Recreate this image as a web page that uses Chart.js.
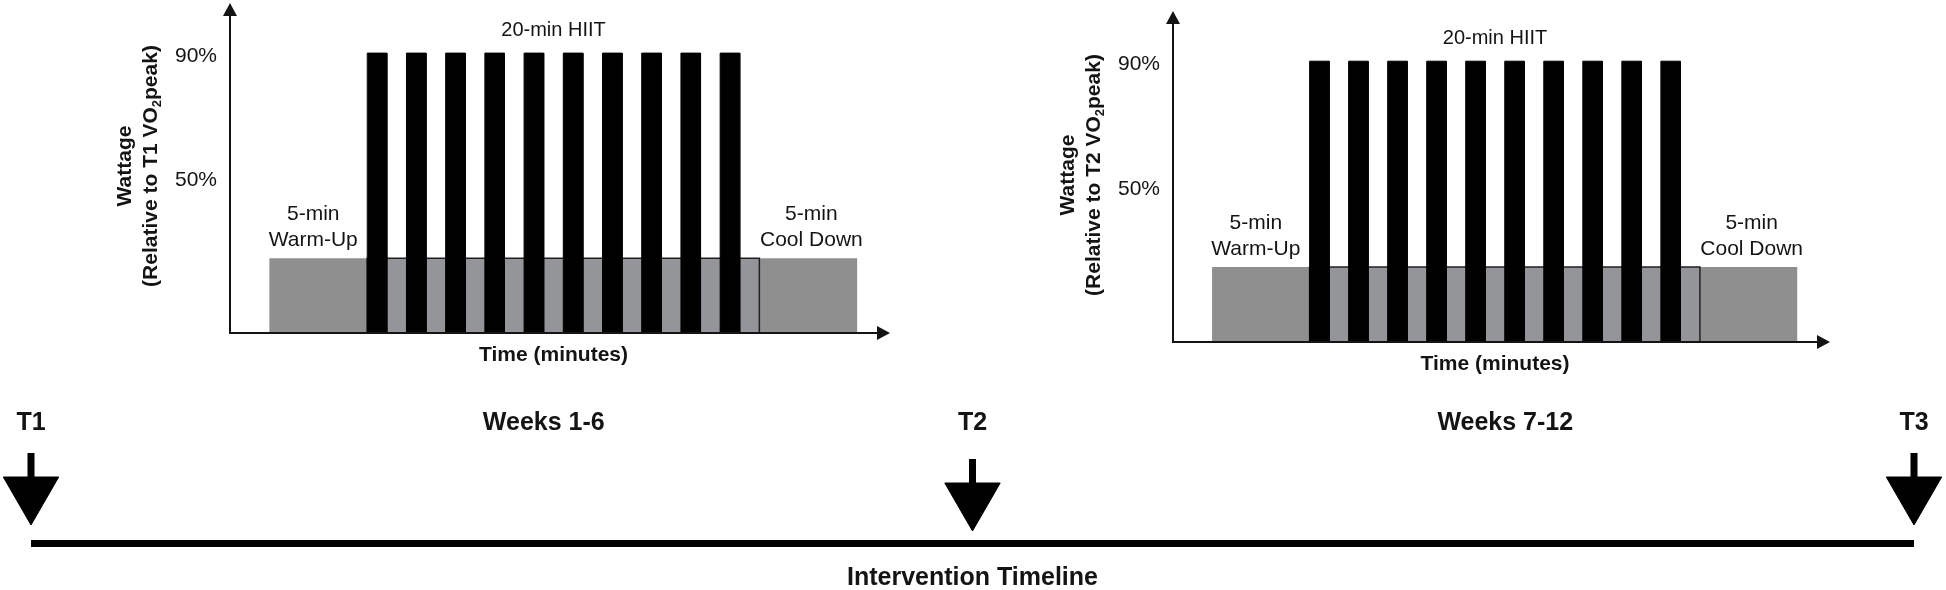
<!DOCTYPE html>
<html><head><meta charset="utf-8">
<script src="https://cdn.jsdelivr.net/npm/chart.js@4.4.1/dist/chart.umd.min.js"></script>
<style>
html,body{margin:0;padding:0;background:#fff;width:1946px;height:590px;overflow:hidden;}
canvas{position:absolute;}
</style></head><body>
<canvas id="p1" width="920" height="390" style="left:0;top:0;width:920px;height:390px"></canvas>
<canvas id="p2" width="920" height="400" style="left:940px;top:0;width:920px;height:400px"></canvas>
<canvas id="tl" width="1946" height="200" style="left:0;top:390px;width:1946px;height:200px"></canvas>
<script>
// ---------- DATA ----------
const phaseNames = ['5-min Warm-Up', '20-min HIIT', '5-min Cool Down'];
const phaseStartMin = [0, 5, 25];
const phaseEndMin = [5, 25, 30];
const phaseLevel = [24, 24, 24];            // % of VO2peak wattage (light work)
const intervalStartMin = [5, 7, 9, 11, 13, 15, 17, 19, 21, 23];
const intervalEndMin   = [6, 8, 10, 12, 14, 16, 18, 20, 22, 24];
const intervalLevel    = [90, 90, 90, 90, 90, 90, 90, 90, 90, 90];
const yTickValues = [50, 90];
const panelRefs = ['T1', 'T2'];
const timepoints = ['T1', 'T2', 'T3'];
const timepointWeek = [0, 6, 12];
const periodLabels = ['Weeks 1-6', 'Weeks 7-12'];
const periodStartWeek = [0, 6];
const periodEndWeek = [6, 12];
const timelineTitle = 'Intervention Timeline';

// ---------- STYLE ----------
const FONT = '"Liberation Sans", Arial, Helvetica, sans-serif';
const INK = '#141414';
Chart.defaults.font.family = FONT;
Chart.defaults.color = INK;

const rect = (x0, x1, level) => [{x:x0,y:0},{x:x0,y:level},{x:x1,y:level},{x:x1,y:0}];

function panelDecor(ref) {
  return {
    id: 'panelDecor',
    afterDraw(chart) {
      const {ctx, chartArea: a, scales: {x, y}} = chart;
      ctx.save();
      ctx.strokeStyle = INK; ctx.fillStyle = INK; ctx.lineWidth = 2;
      // y-axis arrow
      ctx.beginPath(); ctx.moveTo(a.left, a.top + 1); ctx.lineTo(a.left, a.top - 8); ctx.stroke();
      ctx.beginPath(); ctx.moveTo(a.left, a.top - 19); ctx.lineTo(a.left - 7, a.top - 6); ctx.lineTo(a.left + 7, a.top - 6); ctx.closePath(); ctx.fill();
      // x-axis arrow
      ctx.beginPath(); ctx.moveTo(a.right - 1, a.bottom); ctx.lineTo(a.right + 2, a.bottom); ctx.stroke();
      ctx.beginPath(); ctx.moveTo(a.right + 13, a.bottom); ctx.lineTo(a.right, a.bottom - 7); ctx.lineTo(a.right, a.bottom + 7); ctx.closePath(); ctx.fill();

      ctx.textAlign = 'center'; ctx.textBaseline = 'middle';
      // HIIT label
      ctx.font = `20px ${FONT}`;
      const hiitMid = (intervalStartMin[0] + intervalEndMin[intervalEndMin.length - 1]) / 2;
      ctx.fillText(phaseNames[1], x.getPixelForValue(hiitMid), y.getPixelForValue(Math.max(...intervalLevel)) - 23);
      // warm-up / cool-down labels
      ctx.font = `21px ${FONT}`;
      [[0, -5], [2, 3]].forEach(([i, dx]) => {
        const name = phaseNames[i]; const sp = name.indexOf(' ');
        const cx = x.getPixelForValue((phaseStartMin[i] + phaseEndMin[i]) / 2) + dx;
        const top = y.getPixelForValue(phaseLevel[i]);
        ctx.fillText(name.slice(0, sp), cx, top - 44);
        ctx.fillText(name.slice(sp + 1), cx, top - 18);
      });
      // x title
      ctx.font = `bold 21px ${FONT}`;
      ctx.fillText('Time (minutes)', (a.left + a.right) / 2, a.bottom + 22);
      // y title (rotated)
      ctx.save();
      ctx.translate(a.left - 105, a.bottom - 167);
      ctx.rotate(-Math.PI / 2);
      ctx.font = `bold 21px ${FONT}`;
      ctx.fillText('Wattage', 0, 0);
      const segs = [['(Relative to ' + ref + ' VO', 21, 0], ['2', 13, 6], ['peak)', 21, 0]];
      let W = 0;
      segs.forEach(s => { ctx.font = `bold ${s[1]}px ${FONT}`; s.push(ctx.measureText(s[0]).width); W += s[3]; });
      ctx.textAlign = 'left';
      let cx = -W / 2;
      segs.forEach(s => { ctx.font = `bold ${s[1]}px ${FONT}`; ctx.fillText(s[0], cx, 26 + s[2]); cx += s[3]; });
      ctx.restore();
      ctx.restore();
    }
  };
}

function makePanel(id, ref, g) {
  const common = {pointRadius: 0, tension: 0, fill: 'origin'};
  const datasets = [
    Object.assign({label: 'HIIT intervals (90%)',
      data: intervalStartMin.flatMap((s, i) => rect(s, intervalEndMin[i], intervalLevel[i])),
      backgroundColor: '#000', borderColor: '#000', borderWidth: 1, order: 0}, common),
    Object.assign({label: phaseNames[1] + ' recovery',
      data: rect(phaseStartMin[1], phaseEndMin[1], phaseLevel[1]),
      backgroundColor: '#939598', borderColor: '#231f20', borderWidth: 1.5, order: 1}, common),
    Object.assign({label: phaseNames[0],
      data: rect(phaseStartMin[0], phaseEndMin[0], phaseLevel[0]),
      backgroundColor: '#8f8f8f', borderColor: 'rgba(0,0,0,0)', borderWidth: 1, order: 2}, common),
    Object.assign({label: phaseNames[2],
      data: rect(phaseStartMin[2], phaseEndMin[2], phaseLevel[2]),
      backgroundColor: '#8f8f8f', borderColor: 'rgba(0,0,0,0)', borderWidth: 1, order: 2}, common),
  ];
  return new Chart(document.getElementById(id), {
    type: 'line',
    data: {datasets},
    options: {
      responsive: false, maintainAspectRatio: false, devicePixelRatio: 1, animation: false, events: [],
      layout: {autoPadding: false, padding: {left: 0, top: g.top, right: g.canvasW - g.right, bottom: 0}},
      plugins: {legend: {display: false}, tooltip: {enabled: false}},
      scales: {
        x: {type: 'linear', min: -2, max: 31,
          grid: {display: false, drawTicks: false},
          border: {display: true, color: INK, width: 2, z: 1},
          ticks: {display: false},
          afterFit(s) { s.height = g.canvasH - g.bottom; s.paddingLeft = 0; s.paddingRight = 0; }},
        y: {type: 'linear', min: 0, max: 100,
          grid: {display: false, drawTicks: false},
          border: {display: true, color: INK, width: 2, z: 1},
          ticks: {font: {family: FONT, size: 21}, color: INK, padding: 13, labelOffset: 3,
                  callback: v => v + '%'},
          afterBuildTicks(s) { s.ticks = yTickValues.map(v => ({value: v})); },
          afterFit(s) { s.width = g.axisLeft; s.paddingTop = 0; s.paddingBottom = 0; }}
      }
    },
    plugins: [panelDecor(ref)]
  });
}

makePanel('p1', panelRefs[0], {axisLeft: 230, top: 22, bottom: 333, right: 877, canvasW: 920, canvasH: 390});
makePanel('p2', panelRefs[1], {axisLeft: 233, top: 30, bottom: 342, right: 877, canvasW: 920, canvasH: 400});

// ---------- TIMELINE ----------
const arrowDrop = [0, 6, 0];   // styling: T2 arrow sits slightly lower
const labelShiftPx = [42, 62];
const timelineDecor = {
  id: 'timelineDecor',
  afterDraw(chart) {
    const {ctx, scales: {x}} = chart;
    ctx.save();
    ctx.fillStyle = INK; ctx.textAlign = 'center'; ctx.textBaseline = 'middle';
    ctx.font = `bold 25px ${FONT}`;
    timepoints.forEach((t, i) => ctx.fillText(t, x.getPixelForValue(timepointWeek[i]), 33));
    periodLabels.forEach((p, i) => ctx.fillText(p, x.getPixelForValue((periodStartWeek[i] + periodEndWeek[i]) / 2) + labelShiftPx[i], 33));
    ctx.fillText(timelineTitle, x.getPixelForValue((timepointWeek[0] + timepointWeek[timepointWeek.length - 1]) / 2), 188);
    ctx.restore();
  }
};
new Chart(document.getElementById('tl'), {
  type: 'line',
  data: {datasets: [
    {label: 'timeline', data: [{x: timepointWeek[0], y: 0}, {x: timepointWeek[timepointWeek.length - 1], y: 0}],
      borderColor: '#000', borderWidth: 7, borderCapStyle: 'butt', pointRadius: 0, clip: false},
    {label: 'stems', data: timepointWeek.flatMap((w, i) => [{x: w, y: 90.5 - arrowDrop[i]}, {x: w, y: 62 - arrowDrop[i]}, {x: w, y: null}]),
      borderColor: '#000', borderWidth: 7, borderCapStyle: 'butt', pointRadius: 0, spanGaps: false, clip: false},
    {label: 'heads', data: timepointWeek.map((w, i) => ({x: w, y: 50.5 - arrowDrop[i]})),
      showLine: false, pointStyle: 'triangle', pointRotation: 180, pointRadius: 32,
      pointBackgroundColor: '#000', pointBorderColor: '#000', pointBorderWidth: 1, clip: false}
  ]},
  options: {
    responsive: false, maintainAspectRatio: false, devicePixelRatio: 1, animation: false, events: [],
    layout: {autoPadding: false, padding: {left: 31, right: 32, top: 0, bottom: 0}},
    plugins: {legend: {display: false}, tooltip: {enabled: false}},
    scales: {
      x: {type: 'linear', min: 0, max: 12, display: false},
      y: {type: 'linear', min: -46.5, max: 153.5, display: false}
    }
  },
  plugins: [timelineDecor]
});
</script>
</body></html>
